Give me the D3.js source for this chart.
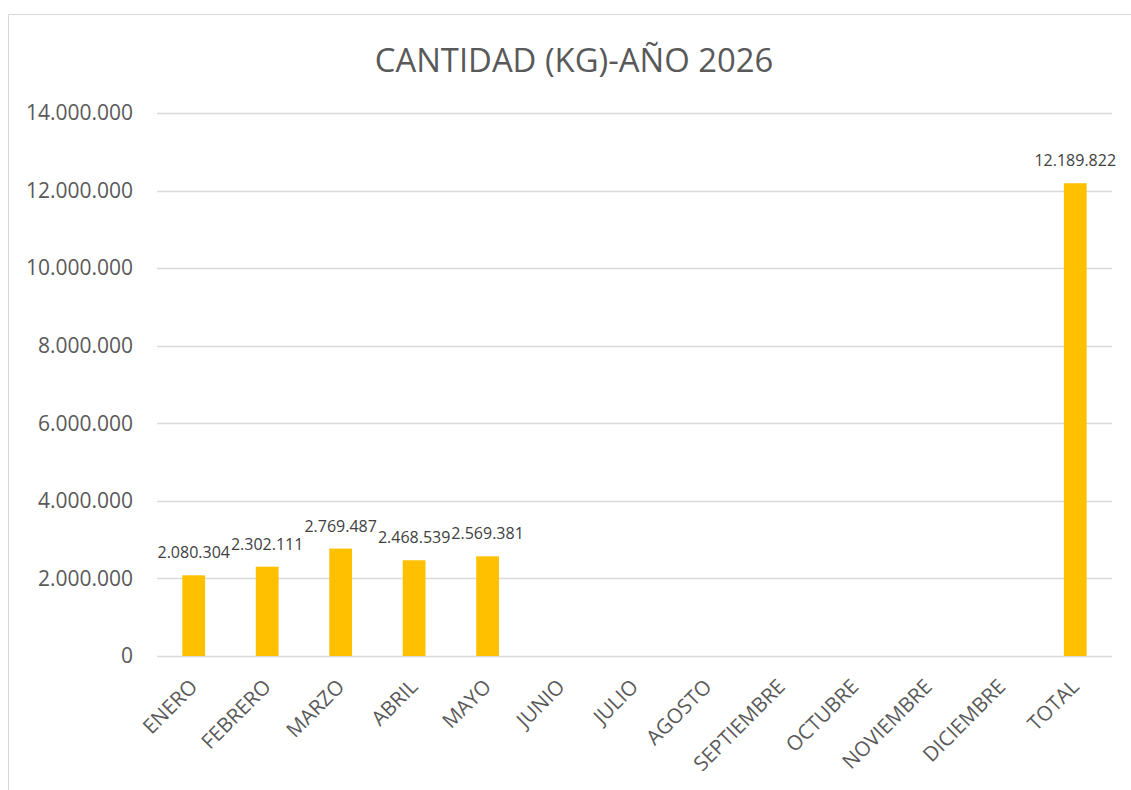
<!DOCTYPE html>
<html>
<head>
<meta charset="utf-8">
<script src="https://cdn.jsdelivr.net/npm/d3@7"></script>
<style>
  body { margin: 0; background: #fff; }
  svg { font-family: "Open Sans", "Noto Sans", sans-serif; }
</style>
</head>
<body>
<svg></svg>
<script>
const width = 1131;
const height = 790;

const months = ['ENERO', 'FEBRERO', 'MARZO', 'ABRIL', 'MAYO', 'JUNIO', 'JULIO',
  'AGOSTO', 'SEPTIEMBRE', 'OCTUBRE', 'NOVIEMBRE', 'DICIEMBRE', 'TOTAL'];
const cantidad = [2080304, 2302111, 2769487, 2468539, 2569381, null, null,
  null, null, null, null, null, 12189822];
const yTicks = [0, 2000000, 4000000, 6000000, 8000000, 10000000, 12000000, 14000000];

const margin = { top: 113, right: 19, bottom: 134, left: 157 };

const svg = d3.select('svg')
  .attr('width', width)
  .attr('height', height);

const fmt = d3.formatLocale({ decimal: ',', thousands: '.', grouping: [3], currency: ['', ''] }).format(',');

// chart frame (only top and left edges show)
svg.append('path')
  .attr('d', `M8.5,${height} V14.5 H${width}`)
  .attr('fill', 'none')
  .attr('stroke', '#d9d9d9')
  .attr('stroke-width', 1);

svg.append('text')
  .attr('x', 574)
  .attr('y', 72)
  .attr('text-anchor', 'middle')
  .attr('fill', '#595959')
  .style('font-size', '32.8px')
  .text('CANTIDAD (KG)-AÑO 2026');

const x = d3.scaleBand()
  .domain(months)
  .range([margin.left, width - margin.right])
  .paddingInner(0.69)
  .paddingOuter(0.345);

const y = d3.scaleLinear()
  .domain([0, 14000000])
  .range([height - margin.bottom, margin.top]);

// grid
svg.append('g')
  .selectAll('line')
  .data(yTicks)
  .enter()
  .append('line')
    .attr('x1', margin.left)
    .attr('x2', width - margin.right)
    .attr('y1', d => Math.round(y(d)) + 0.5)
    .attr('y2', d => Math.round(y(d)) + 0.5)
    .attr('stroke', '#d9d9d9')
    .attr('stroke-width', 1.5);

// y labels
svg.append('g')
  .selectAll('text')
  .data(yTicks)
  .enter()
  .append('text')
    .attr('x', 133)
    .attr('y', d => y(d))
    .attr('dy', '0.35em')
    .attr('text-anchor', 'end')
    .attr('fill', '#595959')
    .style('font-size', '21px')
    .text(d => fmt(d));

const data = months.map((m, i) => ({ m, v: cantidad[i] })).filter(d => d.v != null);

svg.append('g')
  .selectAll('rect')
  .data(data)
  .enter()
  .append('rect')
    .attr('x', d => x(d.m))
    .attr('width', x.bandwidth())
    .attr('y', d => y(d.v))
    .attr('height', d => y(0) - y(d.v))
    .attr('fill', '#ffc000');

svg.append('g')
  .selectAll('text')
  .data(data)
  .enter()
  .append('text')
    .attr('x', d => x(d.m) + x.bandwidth() / 2)
    .attr('y', d => y(d.v) - 17)
    .attr('text-anchor', 'middle')
    .attr('fill', '#404040')
    .style('font-size', '16px')
    .text(d => fmt(d.v));

// x labels
svg.append('g')
  .selectAll('text')
  .data(months)
  .enter()
  .append('text')
    .attr('transform', d => `translate(${x(d) + x.bandwidth() / 2 + 5},${y(0) + 32}) rotate(-45)`)
    .attr('text-anchor', 'end')
    .attr('fill', '#595959')
    .style('font-size', '20.5px')
    .text(d => d);
</script>
</body>
</html>
